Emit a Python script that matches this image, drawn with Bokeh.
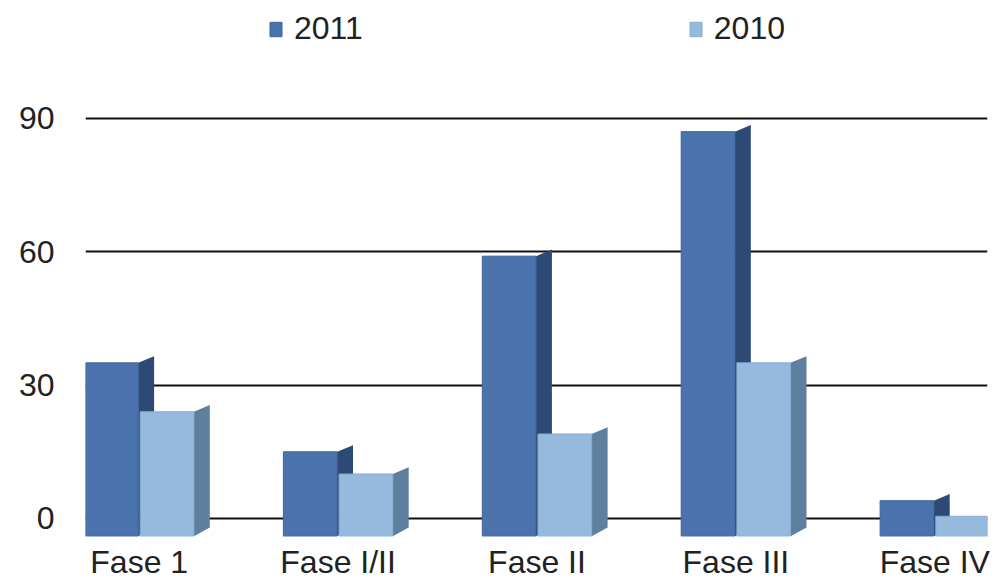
from bokeh.plotting import figure
from bokeh.models import ColumnDataSource, Legend, LegendItem, FixedTicker, Range1d
from bokeh.embed import file_html
from bokeh.resources import INLINE

categories = ["Fase 1", "Fase I/II", "Fase II", "Fase III", "Fase IV"]
values_2011 = [35, 15, 59, 87, 4]
values_2010 = [24, 10, 19, 35, 0.5]
y_ticks = [0, 30, 60, 90]

xs = list(range(len(categories)))
off = 0.14
bw = 0.27
base = -4  # front face of 3D bars sits slightly below the zero line

src11 = ColumnDataSource(dict(x=[x - off for x in xs], top=values_2011, bottom=[base] * len(xs)))
src10 = ColumnDataSource(dict(x=[x + off for x in xs], top=values_2010, bottom=[base] * len(xs)))

p = figure(width=995, height=583, output_backend="svg", toolbar_location=None,
           x_range=Range1d(-0.27, 4.265), y_range=Range1d(-4.05, 116.5),
           min_border_left=85, min_border_right=8, min_border_top=0, min_border_bottom=47)
p.outline_line_color = None

# side faces for depth
side = 0.08
for src, col in ((src11, "#2d4a76"), (src10, "#5f7f9f")):
    d = src.data
    xs_p, ys_p = [], []
    for x, t, b in zip(d["x"], d["top"], d["bottom"]):
        r = x + bw / 2
        xs_p.append([r, r + side, r + side, r])
        ys_p.append([b, b + 2, t + 1.5, t])
    p.patches(xs_p, ys_p, fill_color=col, line_color=None)

r11 = p.vbar(x="x", top="top", bottom="bottom", width=bw, source=src11,
             fill_color="#4a73ad", line_color="#3f6499", line_width=1)
r10 = p.vbar(x="x", top="top", bottom="bottom", width=bw, source=src10,
             fill_color="#95badd", line_color="#86abcf", line_width=1)

p.xgrid.grid_line_color = None
p.ygrid.grid_line_color = "#111111"
p.ygrid.grid_line_width = 2
p.yaxis.ticker = FixedTicker(ticks=y_ticks)
p.xaxis.ticker = FixedTicker(ticks=xs)
p.xaxis.major_label_overrides = {i: c for i, c in enumerate(categories)}

for ax in (p.xaxis[0], p.yaxis[0]):
    ax.axis_line_color = None
    ax.major_tick_line_color = None
    ax.minor_tick_line_color = None
    ax.major_label_text_font = "Liberation Sans"
    ax.major_label_text_font_size = "32px"
    ax.major_label_text_color = "#222222"
p.yaxis.major_label_standoff = 25
p.xaxis.major_label_standoff = 1

legend = Legend(items=[LegendItem(label="2011", renderers=[r11]),
                       LegendItem(label="2010", renderers=[r10])],
                orientation="horizontal", location=(183, 489),
                label_text_font="Liberation Sans", label_text_font_size="32px",
                label_text_color="#222222", glyph_width=15, glyph_height=18,
                label_standoff=11, spacing=325, border_line_color=None,
                background_fill_alpha=0, padding=0, margin=0)
p.add_layout(legend, "center")

open("out.html", "w").write(file_html(p, INLINE))
